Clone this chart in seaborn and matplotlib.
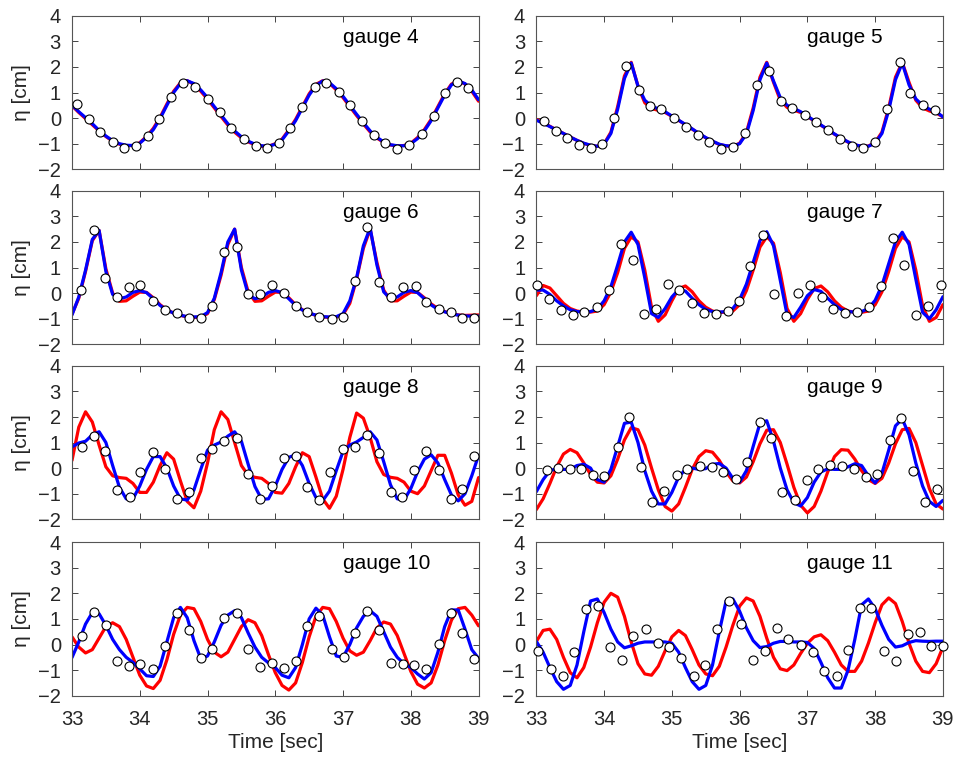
import numpy as np
import matplotlib.pyplot as plt
import seaborn as sns

# wave gauges: model (red / blue) against measured points (circles)
sns.set_style("ticks")
plt.rcParams['font.family'] = ['Liberation Sans', 'DejaVu Sans']

# model output sampled every 0.1 s from 33 to 39 s
t = np.linspace(33, 39, 61)

g4_red = [0.48, 0.22, -0.02, -0.26, -0.50, -0.72, -0.90, -1.02, -1.08, -1.07,
          -0.96, -0.72, -0.40, 0.03, 0.55, 1.05, 1.38, 1.46, 1.32, 1.05,
          0.74, 0.40, 0.06, -0.27, -0.55, -0.77, -0.93, -1.04, -1.10, -1.10,
          -1.00, -0.82, -0.46, -0.05, 0.45, 0.95, 1.32, 1.46, 1.36, 1.10,
          0.80, 0.45, 0.10, -0.23, -0.54, -0.78, -0.95, -1.05, -1.09, -1.07,
          -0.98, -0.76, -0.45, -0.05, 0.45, 0.95, 1.33, 1.46, 1.33, 1.05,
          0.66]
g4_blue = [0.51, 0.25, 0.02, -0.22, -0.48, -0.70, -0.88, -1.00, -1.06, -1.07,
           -0.98, -0.75, -0.45, -0.02, 0.50, 1.00, 1.35, 1.46, 1.35, 1.10,
           0.80, 0.45, 0.12, -0.22, -0.50, -0.73, -0.90, -1.02, -1.08, -1.10,
           -1.02, -0.85, -0.50, -0.10, 0.40, 0.90, 1.28, 1.45, 1.38, 1.15,
           0.85, 0.50, 0.15, -0.18, -0.50, -0.75, -0.93, -1.04, -1.08, -1.08,
           -1.00, -0.80, -0.50, -0.10, 0.40, 0.90, 1.30, 1.45, 1.35, 1.10,
           0.72]
g4_obs_t = [33.07, 33.25, 33.42, 33.60, 33.77, 33.95, 34.12, 34.29, 34.46, 34.64,
            34.82, 35.00, 35.19, 35.34, 35.54, 35.71, 35.88, 36.05, 36.22, 36.40,
            36.58, 36.75, 36.94, 37.10, 37.28, 37.46, 37.62, 37.80, 37.98, 38.16,
            38.34, 38.50, 38.68, 38.85]
g4_obs = [0.56, -0.05, -0.56, -0.95, -1.16, -1.10, -0.69, -0.05, 0.84, 1.39,
          1.23, 0.76, 0.24, -0.38, -0.81, -1.10, -1.16, -0.99, -0.38, 0.44,
          1.23, 1.36, 1.03, 0.51, -0.12, -0.67, -0.99, -1.20, -1.06, -0.64,
          0.08, 0.97, 1.42, 1.16]

g5_red = [-0.05, -0.18, -0.32, -0.46, -0.60, -0.74, -0.87, -0.99, -1.07, -1.10,
          -1.00, -0.55, 0.45, 1.65, 2.18, 1.25, 0.60, 0.38, 0.30, 0.22,
          0.07, -0.09, -0.26, -0.43, -0.61, -0.77, -0.91, -1.03, -1.09, -1.10,
          -0.98, -0.56, 0.40, 1.60, 2.18, 1.40, 0.70, 0.42, 0.31, 0.22,
          0.06, -0.11, -0.28, -0.45, -0.63, -0.79, -0.94, -1.05, -1.10, -1.09,
          -0.95, -0.55, 0.40, 1.60, 2.18, 1.40, 0.70, 0.40, 0.28, 0.20,
          0.05]
g5_blue = [-0.08, -0.20, -0.33, -0.47, -0.60, -0.74, -0.87, -0.98, -1.06, -1.10,
           -1.02, -0.60, 0.35, 1.55, 2.15, 1.25, 0.70, 0.47, 0.36, 0.25,
           0.08, -0.08, -0.25, -0.42, -0.60, -0.76, -0.90, -1.02, -1.08, -1.10,
           -1.00, -0.62, 0.30, 1.50, 2.15, 1.45, 0.80, 0.50, 0.38, 0.25,
           0.08, -0.10, -0.27, -0.44, -0.62, -0.78, -0.93, -1.04, -1.10, -1.10,
           -0.98, -0.60, 0.30, 1.50, 2.15, 1.30, 0.75, 0.50, 0.35, 0.25,
           0.05]
g5_obs_t = [33.11, 33.29, 33.45, 33.63, 33.81, 33.97, 34.15, 34.33, 34.51, 34.68,
            34.84, 35.03, 35.21, 35.38, 35.55, 35.73, 35.90, 36.08, 36.26, 36.44,
            36.61, 36.78, 36.96, 37.12, 37.31, 37.48, 37.66, 37.82, 38.00, 38.18,
            38.36, 38.52, 38.70, 38.88]
g5_obs = [-0.10, -0.52, -0.77, -1.06, -1.16, -1.02, 0.00, 2.05, 1.11, 0.46,
          0.35, 0.00, -0.33, -0.65, -0.94, -1.19, -1.11, -0.59, 1.29, 1.83,
          0.67, 0.41, 0.13, -0.16, -0.48, -0.80, -1.08, -1.16, -0.95, 0.35,
          2.18, 0.97, 0.51, 0.33]

g6_red = [-0.82, -0.20, 0.85, 2.05, 2.45, 0.95, 0.00, -0.32, -0.30, -0.12,
          0.04, 0.03, -0.18, -0.45, -0.65, -0.78, -0.87, -0.93, -0.95, -0.94,
          -0.80, -0.25, 0.70, 1.90, 2.50, 1.00, 0.05, -0.32, -0.30, -0.12,
          0.04, 0.03, -0.18, -0.45, -0.65, -0.78, -0.87, -0.93, -0.95, -0.94,
          -0.84, -0.40, 0.55, 1.75, 2.50, 1.20, 0.12, -0.30, -0.30, -0.12,
          0.04, 0.03, -0.18, -0.42, -0.60, -0.72, -0.80, -0.85, -0.87, -0.86,
          -0.85]
g6_blue = [-0.85, -0.15, 0.90, 2.10, 2.45, 0.85, -0.05, -0.22, -0.15, 0.03,
           0.10, 0.02, -0.22, -0.48, -0.66, -0.78, -0.86, -0.92, -0.93, -0.92,
           -0.76, -0.20, 0.80, 2.00, 2.50, 0.90, -0.05, -0.22, -0.15, 0.03,
           0.10, 0.02, -0.22, -0.48, -0.66, -0.78, -0.86, -0.92, -0.93, -0.92,
           -0.80, -0.30, 0.60, 1.85, 2.55, 1.10, 0.05, -0.22, -0.15, 0.03,
           0.10, 0.02, -0.22, -0.46, -0.63, -0.73, -0.81, -0.86, -0.89, -0.90,
           -0.90]
g6_obs_t = [33.13, 33.33, 33.48, 33.67, 33.84, 34.01, 34.20, 34.37, 34.55, 34.73,
            34.90, 35.07, 35.25, 35.43, 35.60, 35.77, 35.95, 36.13, 36.31, 36.47,
            36.65, 36.83, 37.00, 37.17, 37.35, 37.53, 37.71, 37.89, 38.07, 38.23,
            38.41, 38.59, 38.76, 38.93]
g6_obs = [0.13, 2.48, 0.59, -0.16, 0.24, 0.31, -0.30, -0.65, -0.78, -0.98,
          -0.98, -0.51, 1.59, 1.79, -0.05, -0.04, 0.33, 0.00, -0.52, -0.72,
          -0.92, -1.02, -0.94, 0.46, 2.58, 0.42, -0.16, 0.25, 0.26, -0.33,
          -0.61, -0.75, -0.97, -0.97]

g7_red = [-0.10, 0.30, 0.20, -0.10, -0.40, -0.60, -0.70, -0.74, -0.74, -0.70,
          -0.45, 0.05, 0.80, 1.75, 2.20, 2.00, 0.90, -0.55, -1.10, -0.85,
          -0.30, 0.18, 0.28, 0.05, -0.30, -0.55, -0.70, -0.75, -0.75, -0.70,
          -0.45, 0.10, 0.90, 1.80, 2.20, 1.95, 0.80, -0.60, -1.10, -0.80,
          -0.25, 0.18, 0.28, 0.05, -0.30, -0.55, -0.70, -0.75, -0.75, -0.70,
          -0.45, 0.05, 0.85, 1.75, 2.20, 2.00, 0.90, -0.50, -1.10, -0.95,
          -0.45]
g7_blue = [0.12, 0.12, -0.05, -0.30, -0.50, -0.65, -0.72, -0.74, -0.72, -0.62,
           -0.30, 0.25, 1.10, 2.00, 2.38, 1.90, 0.60, -0.80, -0.95, -0.60,
           -0.15, 0.14, 0.08, -0.20, -0.45, -0.64, -0.72, -0.74, -0.72, -0.60,
           -0.25, 0.35, 1.20, 2.05, 2.40, 1.85, 0.50, -0.85, -0.95, -0.55,
           -0.10, 0.14, 0.07, -0.20, -0.45, -0.64, -0.72, -0.74, -0.72, -0.60,
           -0.28, 0.30, 1.15, 2.00, 2.38, 1.90, 0.55, -0.75, -1.00, -0.65,
           -0.14]
g7_obs_t = [33.01, 33.19, 33.37, 33.54, 33.71, 33.89, 34.07, 34.25, 34.43, 34.59,
            34.77, 34.94, 35.11, 35.29, 35.47, 35.65, 35.83, 35.99, 36.16, 36.34,
            36.50, 36.68, 36.86, 37.04, 37.22, 37.38, 37.56, 37.73, 37.91, 38.08,
            38.26, 38.43, 38.61, 38.78, 38.97]
g7_obs = [0.31, -0.21, -0.64, -0.86, -0.75, -0.56, 0.12, 1.91, 1.31, -0.82,
          -0.60, 0.34, 0.12, -0.39, -0.77, -0.82, -0.68, -0.31, 1.08, 2.27,
          -0.05, -0.89, 0.00, 0.31, -0.17, -0.61, -0.78, -0.72, -0.54, 0.29,
          2.16, 1.10, -0.85, -0.51, 0.33]

g8_red = [0.30, 1.60, 2.20, 1.80, 0.90, 0.05, -0.30, -0.37, -0.40, -0.60,
          -0.95, -0.95, -0.55, 0.10, 0.60, 0.35, -0.50, -1.30, -1.55, -0.90,
          0.20, 1.50, 2.20, 1.90, 1.00, 0.10, -0.28, -0.36, -0.40, -0.60,
          -0.95, -0.98, -0.60, 0.05, 0.60, 0.45, -0.35, -1.20, -1.57, -1.10,
          -0.05, 1.20, 2.15, 1.95, 1.20, 0.25, -0.25, -0.36, -0.40, -0.55,
          -0.90, -1.00, -0.70, -0.10, 0.50, 0.50, -0.20, -1.05, -1.45, -1.30,
          -0.37]
g8_blue = [0.83, 0.98, 1.05, 1.30, 1.42, 1.00, 0.10, -0.75, -1.20, -1.20,
           -0.70, -0.05, 0.45, 0.45, 0.00, -0.70, -1.20, -1.25, -0.85, -0.05,
           0.70, 0.90, 1.02, 1.25, 1.42, 1.05, 0.15, -0.72, -1.22, -1.20,
           -0.70, -0.05, 0.42, 0.52, 0.10, -0.60, -1.15, -1.27, -0.90, -0.10,
           0.65, 0.90, 1.02, 1.20, 1.42, 1.10, 0.25, -0.65, -1.20, -1.25,
           -0.80, -0.15, 0.35, 0.52, 0.20, -0.45, -1.05, -1.28, -1.00, -0.30,
           0.50]
g8_obs_t = [33.15, 33.33, 33.48, 33.67, 33.85, 34.01, 34.20, 34.37, 34.55, 34.73,
            34.90, 35.07, 35.25, 35.43, 35.60, 35.77, 35.95, 36.13, 36.31, 36.47,
            36.65, 36.81, 37.00, 37.17, 37.35, 37.53, 37.71, 37.87, 38.05, 38.23,
            38.41, 38.59, 38.76, 38.93]
g8_obs = [0.83, 1.26, 0.65, -0.86, -1.14, -0.17, 0.63, -0.02, -1.22, -0.94,
          0.39, 0.76, 1.06, 1.19, -0.22, -1.22, -0.70, 0.38, 0.47, -0.74,
          -1.26, -0.17, 0.74, 0.83, 1.28, 0.59, -0.94, -1.11, -0.08, 0.65,
          -0.08, -1.22, -0.83, 0.46]

g9_red = [-1.62, -1.20, -0.60, 0.05, 0.55, 0.73, 0.60, 0.20, -0.25, -0.55,
          -0.58, -0.30, 0.35, 1.10, 1.58, 1.50, 0.90, 0.00, -0.85, -1.50,
          -1.68, -1.40, -0.75, -0.05, 0.45, 0.68, 0.62, 0.30, -0.15, -0.50,
          -0.58, -0.35, 0.25, 0.95, 1.48, 1.50, 1.00, 0.15, -0.75, -1.45,
          -1.75, -1.50, -0.90, -0.15, 0.45, 0.72, 0.70, 0.35, -0.10, -0.45,
          -0.60, -0.40, 0.20, 0.95, 1.50, 1.55, 1.00, 0.10, -0.80, -1.40,
          -1.60]
g9_blue = [-0.92, -0.45, -0.10, -0.02, -0.05, -0.05, 0.10, 0.15, 0.00, -0.45,
           -0.55, -0.05, 0.85, 1.75, 1.80, 1.00, -0.10, -0.90, -1.40, -1.40,
           -0.95, -0.35, -0.05, 0.00, -0.05, -0.02, 0.15, 0.18, 0.00, -0.40,
           -0.55, -0.10, 0.85, 1.75, 1.85, 1.05, 0.00, -0.85, -1.35, -1.48,
           -1.15, -0.55, -0.15, -0.03, -0.05, -0.05, 0.05, 0.17, 0.10, -0.30,
           -0.58, -0.20, 0.70, 1.65, 1.92, 1.30, 0.20, -0.70, -1.30, -1.50,
           -1.26]
g9_obs_t = [33.15, 33.32, 33.50, 33.66, 33.84, 34.00, 34.20, 34.37, 34.55, 34.71,
            34.89, 35.07, 35.23, 35.41, 35.59, 35.76, 35.94, 36.11, 36.30, 36.46,
            36.63, 36.81, 36.99, 37.16, 37.34, 37.51, 37.69, 37.86, 38.03, 38.22,
            38.38, 38.56, 38.73, 38.92]
g9_obs = [-0.09, 0.01, -0.03, -0.03, -0.27, -0.30, 0.82, 2.00, 0.04, -1.33,
          -0.89, -0.27, -0.03, 0.08, 0.04, -0.17, -0.41, 0.22, 1.80, 1.18,
          -0.94, -1.23, -0.48, -0.03, 0.13, 0.08, -0.03, -0.34, -0.24, 1.11,
          1.97, -0.13, -1.33, -0.80]

g10_red = [0.30, -0.10, -0.33, -0.20, 0.25, 0.70, 0.85, 0.70, 0.20, -0.50,
           -1.20, -1.62, -1.72, -1.40, -0.60, 0.40, 1.15, 1.45, 1.40, 0.90,
           0.20, -0.30, -0.48, -0.30, 0.20, 0.70, 0.97, 0.85, 0.35, -0.40,
           -1.10, -1.60, -1.78, -1.50, -0.70, 0.30, 1.10, 1.45, 1.40, 0.90,
           0.25, -0.25, -0.42, -0.30, 0.15, 0.65, 0.88, 0.80, 0.35, -0.35,
           -1.05, -1.55, -1.70, -1.50, -0.80, 0.15, 0.95, 1.40, 1.45, 1.15,
           0.73]
g10_blue = [-0.51, 0.10, 0.80, 1.25, 1.20, 0.75, 0.20, -0.20, -0.50, -0.70,
            -0.95, -1.22, -1.25, -0.85, 0.10, 1.05, 1.45, 1.05, 0.15, -0.55,
            -0.45, 0.10, 0.75, 1.15, 1.32, 1.05, 0.45, -0.10, -0.50, -0.72,
            -0.90, -1.20, -1.30, -0.90, 0.00, 1.00, 1.42, 1.15, 0.30, -0.45,
            -0.50, 0.00, 0.65, 1.10, 1.32, 1.10, 0.50, -0.10, -0.50, -0.75,
            -0.90, -1.15, -1.35, -1.10, -0.30, 0.70, 1.35, 1.35, 0.60, -0.20,
            -0.54]
g10_obs_t = [33.15, 33.33, 33.50, 33.67, 33.84, 34.01, 34.20, 34.37, 34.55, 34.73,
             34.90, 35.07, 35.25, 35.43, 35.60, 35.77, 35.95, 36.13, 36.30, 36.47,
             36.65, 36.83, 37.01, 37.17, 37.35, 37.53, 37.71, 37.89, 38.05, 38.23,
             38.41, 38.59, 38.76, 38.93]
g10_obs = [0.34, 1.28, 0.76, -0.64, -0.84, -0.77, -0.95, -0.05, 1.23, 0.58,
           -0.52, -0.17, 1.05, 1.25, -0.17, -0.88, -0.71, -0.93, -0.65, 0.72,
           1.10, -0.17, -0.48, 0.44, 1.29, 0.58, -0.73, -0.77, -0.80, -0.97,
           0.01, 1.25, 0.44, -0.58]

g11_red = [0.12, 0.55, 0.60, 0.20, -0.50, -1.10, -1.30, -0.90, -0.10, 0.85,
           1.65, 2.00, 1.85, 1.10, 0.10, -0.75, -1.15, -1.20, -0.85, -0.25,
           0.30, 0.55, 0.35, -0.20, -0.80, -1.15, -1.22, -0.85, -0.10, 0.75,
           1.50, 1.82, 1.70, 1.10, 0.25, -0.50, -0.95, -1.02, -0.80, -0.35,
           0.05, 0.30, 0.38, 0.15, -0.30, -0.80, -1.05, -1.05, -0.65, 0.05,
           0.85, 1.55, 1.82, 1.60, 0.90, 0.05, -0.65, -1.05, -1.10, -0.75,
           -0.10]
g11_blue = [0.12, -0.30, -0.90, -1.45, -1.75, -1.60, -0.80, 0.50, 1.70, 1.78,
            1.25, 0.60, 0.10, -0.13, -0.05, 0.05, 0.10, 0.10, 0.10, 0.10,
            0.05, -0.30, -0.90, -1.45, -1.75, -1.60, -0.80, 0.50, 1.70, 1.78,
            1.30, 0.65, 0.15, -0.12, -0.08, 0.05, 0.12, 0.12, 0.10, 0.10,
            0.08, -0.15, -0.70, -1.30, -1.70, -1.70, -1.00, 0.20, 1.55, 1.78,
            1.40, 0.75, 0.20, -0.10, -0.05, 0.08, 0.15, 0.13, 0.12, 0.13,
            0.13]
g11_obs_t = [33.03, 33.21, 33.39, 33.56, 33.73, 33.91, 34.08, 34.26, 34.43, 34.62,
             34.80, 34.96, 35.14, 35.32, 35.49, 35.67, 35.84, 36.02, 36.20, 36.37,
             36.55, 36.72, 36.90, 37.08, 37.25, 37.43, 37.60, 37.77, 37.94, 38.13,
             38.31, 38.48, 38.66, 38.83, 39.00]
g11_obs = [-0.26, -0.97, -1.23, -0.29, 1.37, 1.52, -0.08, -0.61, 0.33, 0.60,
           0.07, -0.08, -0.54, -1.22, -0.82, 0.59, 1.70, 0.82, -0.61, -0.25,
           0.64, 0.22, 0.00, -0.29, -1.02, -1.23, -0.20, 1.42, 1.42, -0.25,
           -0.64, 0.42, 0.48, -0.04, -0.04]

panels = [
    (4, g4_red, g4_blue, g4_obs_t, g4_obs),
    (5, g5_red, g5_blue, g5_obs_t, g5_obs),
    (6, g6_red, g6_blue, g6_obs_t, g6_obs),
    (7, g7_red, g7_blue, g7_obs_t, g7_obs),
    (8, g8_red, g8_blue, g8_obs_t, g8_obs),
    (9, g9_red, g9_blue, g9_obs_t, g9_obs),
    (10, g10_red, g10_blue, g10_obs_t, g10_obs),
    (11, g11_red, g11_blue, g11_obs_t, g11_obs),
]

fig = plt.figure(figsize=(9.6, 7.64), dpi=100)
lefts = [0.075, 0.5587]
bottoms = [0.7784, 0.5493, 0.3203, 0.0894]
axis_col = '#262626'

for i, (num, red, blue, obs_t, obs) in enumerate(panels):
    row, col = divmod(i, 2)
    ax = fig.add_axes([lefts[col], bottoms[row], 0.4235, 0.201])

    sns.lineplot(x=t, y=red, color='red', linewidth=2.3, ax=ax)
    sns.lineplot(x=t, y=blue, color='blue', linewidth=2.3, ax=ax)
    sns.scatterplot(x=obs_t, y=obs, s=42, color='white', edgecolor='black',
                    linewidth=0.8, zorder=3, clip_on=False, ax=ax)

    ax.set_xlim(33, 39)
    ax.set_ylim(-2, 4)
    ax.set_xticks(range(33, 40))
    ax.set_yticks(range(-2, 5))
    ax.tick_params(direction='in', top=True, right=True, length=4, width=0.6,
                   labelsize=14.5, colors=axis_col, labelcolor=axis_col)
    ax.tick_params(axis='x', pad=10)
    ax.tick_params(axis='y', pad=8)
    for sp in ax.spines.values():
        sp.set_color('#555555')
        sp.set_linewidth(0.8)

    ax.text(37.0, 2.95, f"gauge {num}", fontsize=15, color='black', va='baseline')

    if row < 3:
        ax.set_xticklabels([])
        ax.set_xlabel('')
    else:
        ax.set_xlabel('Time [sec]', fontsize=15, color=axis_col, labelpad=3)
    if col == 0:
        ax.set_ylabel('η [cm]', fontsize=15, color=axis_col)
        ax.yaxis.set_label_coords(-0.1, 0.5)
    else:
        ax.set_ylabel('')

fig.savefig('out.png', dpi=100)
plt.close(fig)
